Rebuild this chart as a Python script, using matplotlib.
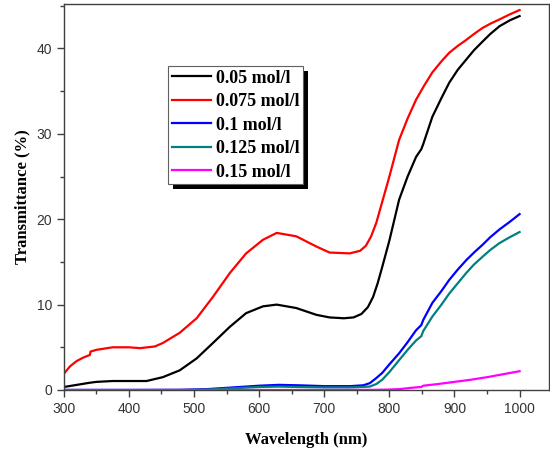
import numpy as np
import matplotlib
matplotlib.use('Agg')
import matplotlib.pyplot as plt
from matplotlib.patches import Rectangle
from matplotlib.transforms import IdentityTransform
from matplotlib.ticker import MultipleLocator

# ---- data ----
x_005 = [300, 320, 340, 350, 375, 400, 427, 452, 478, 504, 529, 555, 580, 606, 627, 657, 688, 708,
         730, 745, 757, 767, 775, 782, 789, 800, 815, 828, 841, 849, 852, 866, 880, 892, 905, 918, 930, 943,
         955, 969, 985, 1000]
y_005 = [0.35, 0.6, 0.85, 0.95, 1.05, 1.05, 1.05, 1.5, 2.3, 3.7, 5.5, 7.4, 9.0, 9.8, 10.0, 9.6, 8.8, 8.5,
         8.4, 8.5, 8.9, 9.7, 10.9, 12.5, 14.4, 17.5, 22.3, 25.0, 27.3, 28.2, 28.8, 32.0, 34.2, 36.0, 37.5, 38.7, 39.8, 40.8,
         41.7, 42.6, 43.3, 43.8]

x_0075 = [300, 310, 320, 330, 340, 341, 350, 375, 400, 417, 440, 452, 478, 504, 529, 555, 580, 606, 627,
          657, 688, 708, 739, 755, 764, 772, 780, 790, 800, 815, 828, 841, 853, 866, 880, 892, 905, 918, 930,
          943, 955, 969, 985, 1000]
y_0075 = [1.9, 2.8, 3.4, 3.8, 4.1, 4.5, 4.7, 5.0, 5.0, 4.9, 5.1, 5.5, 6.7, 8.4, 10.9, 13.7, 16.0, 17.6, 18.4,
          18.0, 16.8, 16.1, 16.0, 16.3, 16.9, 18.0, 19.6, 22.3, 25.0, 29.3, 31.8, 34.0, 35.6, 37.2, 38.5, 39.5, 40.3, 41.0, 41.7,
          42.4, 42.9, 43.4, 44.0, 44.5]

x_01 = [300, 400, 480, 520, 560, 600, 630, 660, 700, 740, 760, 770, 780, 789, 800, 815, 828, 841, 849,
        852, 866, 880, 892, 905, 918, 930, 943, 955, 969, 985, 1000]
y_01 = [0, 0, 0.02, 0.1, 0.3, 0.5, 0.6, 0.55, 0.45, 0.45, 0.55, 0.8, 1.4, 2.0, 3.0, 4.3, 5.6, 7.0, 7.6,
        8.2, 10.2, 11.6, 12.9, 14.1, 15.2, 16.1, 17.0, 17.9, 18.8, 19.7, 20.6]

x_0125 = [300, 400, 480, 520, 560, 600, 630, 660, 700, 740, 770, 780, 789, 800, 815, 828, 841, 849, 852,
          866, 880, 892, 905, 918, 930, 943, 955, 969, 985, 1000]
y_0125 = [0, 0, 0, 0.05, 0.2, 0.35, 0.4, 0.35, 0.3, 0.3, 0.4, 0.7, 1.2, 2.1, 3.5, 4.7, 5.8, 6.3, 6.9,
          8.6, 10.0, 11.3, 12.5, 13.7, 14.7, 15.6, 16.4, 17.2, 17.9, 18.5]

x_015 = [300, 700, 780, 800, 815, 840, 849, 852, 875, 900, 925, 950, 975, 1000]
y_015 = [0, 0, 0.02, 0.05, 0.1, 0.3, 0.35, 0.5, 0.7, 0.95, 1.2, 1.5, 1.85, 2.2]

labels = ['0.05 mol/l', '0.075 mol/l', '0.1 mol/l', '0.125 mol/l', '0.15 mol/l']
colors = ['black', '#ff0000', '#0000ff', '#008080', '#ff00ff']

fig = plt.figure(figsize=(5.5, 4.54), dpi=100)
ax = fig.add_axes([0.116, 0.141, 0.882, 0.850])

series = [(x_005, y_005), (x_0075, y_0075), (x_01, y_01), (x_0125, y_0125), (x_015, y_015)]
for (xs, ys), lab, c in zip(series, labels, colors):
    ax.plot(xs, ys, color=c, lw=1.6, label=lab)

ax.set_xlim(300, 1045)
ax.set_ylim(0, 45.2)
ax.xaxis.set_major_locator(MultipleLocator(100))
ax.xaxis.set_minor_locator(MultipleLocator(50))
ax.yaxis.set_major_locator(MultipleLocator(10))
ax.yaxis.set_minor_locator(MultipleLocator(5))

for s in ax.spines.values():
    s.set_color('#404040')
    s.set_linewidth(1.0)
ax.tick_params(which='both', direction='out', color='#404040', top=False, right=False,
               labelsize=10, labelcolor='#333333')
ax.tick_params(which='major', length=5, width=1.0)
ax.tick_params(which='minor', length=3, width=1.0)
for t in ax.get_xticklabels() + ax.get_yticklabels():
    t.set_family('Liberation Sans')

serif = {'family': 'Liberation Serif', 'weight': 'bold', 'size': 12}
ax.set_xlabel('Wavelength (nm)', fontdict=serif, labelpad=12)
ax.set_ylabel('Transmittance (%)', fontdict=serif, labelpad=4)

leg = ax.legend(loc='upper left', bbox_to_anchor=(168 / 550, 1 - 66 / 454),
                bbox_transform=fig.transFigure, prop={'family': 'Liberation Serif', 'weight': 'bold', 'size': 13},
                fancybox=False, frameon=True, borderaxespad=0, borderpad=0.2,
                labelspacing=0.36, handlelength=2.2, handletextpad=0.25)
leg.get_frame().set_edgecolor('#606060')
leg.get_frame().set_linewidth(0.8)
leg.get_frame().set_alpha(1)

# black drop shadow behind legend
fig.canvas.draw()
bb = leg.get_window_extent()
shadow = Rectangle((bb.x0 + 5, bb.y0 - 5), bb.width, bb.height, transform=IdentityTransform(),
                   facecolor='black', edgecolor='none', zorder=4.9, clip_on=False)
ax.add_artist(shadow)

fig.savefig('out.png', dpi=100)
